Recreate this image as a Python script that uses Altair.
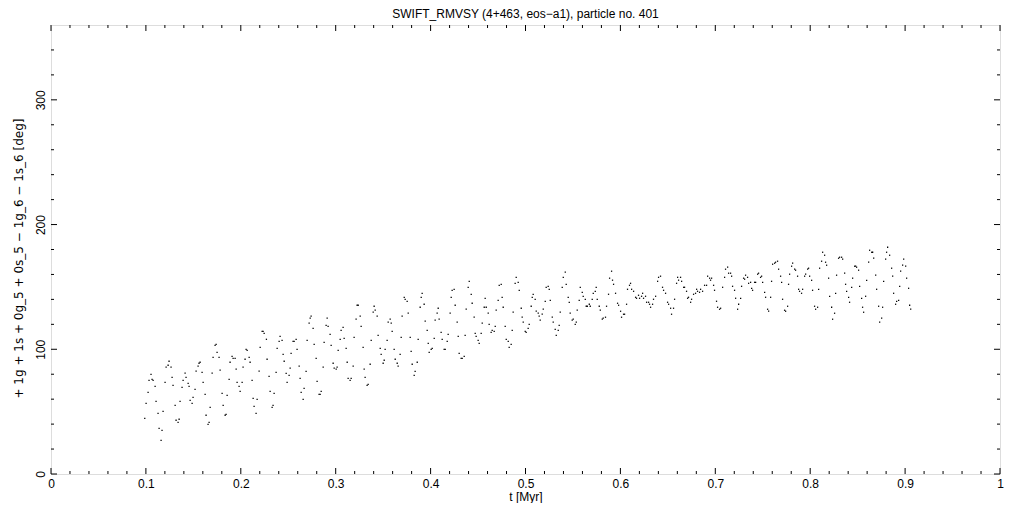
import altair as alt
import pandas as pd

# ---- data (t in Myr, angle in deg) ----
t_seg1 = [0.0988,0.1002,0.1023,0.1033,0.1054,0.1065,0.1076,0.1097,0.1107,0.1128,
          0.1139,0.1160,0.1170,0.1181,0.1202,0.1213,0.1234,0.1244,0.1265,0.1276,
          0.1286,0.1308,0.1318,0.1339,0.1350,0.1360,0.1381,0.1392,0.1413,0.1423,
          0.1445,0.1455,0.1466,0.1487,0.1497,0.1518,0.1529,0.1550,0.1560,0.1571,
          0.1592,0.1603,0.1624,0.1634,0.1655,0.1666,0.1677,0.1698,0.1708,0.1729,
          0.1740,0.1750,0.1771,0.1782,0.1803,0.1814,0.1835,0.1845,0.1856,0.1877,
          0.1887,0.1908,0.1919,0.1940,0.1951,0.1961,0.1982,0.1993,0.2014,0.2024,
          0.2045,0.2056,0.2067,0.2088,0.2098,0.2119,0.2130,0.2140,0.2161,0.2172,
          0.2193,0.2204,0.2225,0.2235,0.2246]
v_seg1 = [44.6,56.7,65.5,75.1,79.9,75.9,75.1,70.3,58.3,48.7,
          36.6,27.0,35.0,50.3,73.5,85.6,87.2,90.4,85.6,77.5,
          71.1,55.1,43.1,41.4,43.9,58.3,69.5,75.1,80.8,77.5,
          72.7,70.3,59.1,56.7,61.5,67.9,82.4,86.4,88.8,89.6,
          81.5,73.5,63.9,47.1,39.8,41.4,53.5,80.8,93.6,103.2,
          104.0,97.6,93.6,83.2,64.7,55.1,47.1,47.9,63.1,75.9,
          89.6,94.4,92.8,92.8,84.0,73.5,70.3,66.3,73.5,85.6,
          92.0,100.0,99.2,93.6,89.6,75.1,60.7,54.3,48.7,59.9,
          82.4,101.6,114.4,114.4,112.8]

t_seg2 = [0.2270,0.2277,0.2298,0.2309,0.2330,0.2340,0.2351,0.2372,0.2383,0.2404,
          0.2414,0.2435,0.2446,0.2457,0.2478,0.2488,0.2509,0.2520,0.2530,0.2551,
          0.2562,0.2583,0.2593,0.2615,0.2625,0.2636,0.2657,0.2667,0.2688,0.2699,
          0.2720,0.2731,0.2741,0.2762,0.2773,0.2794,0.2804,0.2825,0.2836,0.2847,
          0.2868,0.2878,0.2899,0.2910,0.2920,0.2941,0.2952,0.2973,0.2984,0.3005,
          0.3015,0.3026,0.3047,0.3057,0.3078,0.3089,0.3110,0.3121,0.3131,0.3152,
          0.3163,0.3184,0.3194,0.3215,0.3226,0.3237,0.3258,0.3268,0.3289,0.3300,
          0.3310,0.3331,0.3342,0.3363,0.3374,0.3395,0.3405,0.3416,0.3437,0.3447,
          0.3469,0.3479,0.3500,0.3511,0.3521,0.3542,0.3553,0.3574,0.3585,0.3595,
          0.3616,0.3627,0.3648,0.3658,0.3679,0.3690,0.3700,0.3722,0.3732,0.3753,
          0.3764,0.3785,0.3795,0.3806,0.3827,0.3837,0.3859,0.3869,0.3890,0.3901,
          0.3911,0.3932,0.3943,0.3964,0.3975,0.3985,0.4006,0.4017,0.4038]
v_seg2 = [108.0,92.0,78.3,66.3,53.5,55.1,64.7,81.5,100.8,106.4,
          110.4,107.2,96.0,90.4,80.7,73.5,79.1,84.8,96.8,106.4,
          106.4,108.0,100.0,86.4,76.7,65.5,59.9,68.7,82.3,107.2,
          120.9,124.9,126.5,116.8,104.0,92.8,74.3,63.9,63.9,66.3,
          85.6,105.6,119.2,124.9,118.4,112.0,103.2,88.8,84.8,84.0,
          85.6,99.2,108.0,115.2,117.6,108.8,100.8,89.6,76.7,75.1,
          76.7,86.4,109.6,124.1,135.3,135.3,126.5,118.4,101.6,84.0,
          77.5,71.1,71.9,88.0,107.2,129.7,134.5,131.3,126.5,111.2,
          100.8,96.0,88.8,91.2,100.0,107.2,121.7,124.1,120.9,114.4,
          100.0,92.0,88.8,86.4,96.0,109.6,126.5,141.7,140.1,138.5,
          128.9,109.6,98.4,88.0,79.1,82.3,89.6,108.0,133.7,141.7,
          144.9,136.1,122.5,115.2,104.8,97.6,100.0,100.8,108.8]

t_seg3 = [0.4048,0.4069,0.4080,0.4090,0.4111,0.4122,0.4143,0.4154,0.4175,0.4185,
          0.4206,0.4217,0.4227,0.4248,0.4259,0.4280,0.4291,0.4301,0.4322,0.4333,
          0.4354,0.4364,0.4375,0.4396,0.4407,0.4428,0.4438,0.4459,0.4470,0.4480,
          0.4501,0.4512,0.4533,0.4544,0.4565,0.4575,0.4586,0.4607,0.4617,0.4638,
          0.4649,0.4670,0.4681,0.4691,0.4712,0.4723,0.4744,0.4754,0.4765,0.4786,
          0.4797,0.4818,0.4828,0.4849,0.4860,0.4870,0.4891,0.4902,0.4923,0.4934,
          0.4955,0.4965,0.4976,0.4997,0.5007,0.5028,0.5039,0.5060,0.5071,0.5081,
          0.5102,0.5113,0.5134,0.5144,0.5155,0.5176,0.5187,0.5208,0.5218,0.5239,
          0.5250,0.5261,0.5282,0.5292,0.5313,0.5324,0.5345,0.5355,0.5366,0.5387,
          0.5398,0.5419,0.5429,0.5450,0.5461,0.5471,0.5492,0.5503,0.5524,0.5535,
          0.5545,0.5566,0.5577,0.5598,0.5608,0.5630,0.5640,0.5651,0.5672,0.5682,
          0.5703,0.5714,0.5735,0.5745,0.5756,0.5777,0.5788,0.5809,0.5819]
v_seg3 = [123.3,128.9,132.9,124.1,113.6,108.0,100.0,100.0,106.4,112.0,
          128.9,141.7,147.3,148.1,135.3,121.7,110.4,96.8,92.8,92.8,
          94.4,111.2,132.1,149.7,154.5,144.1,136.9,125.7,112.8,110.4,
          107.2,104.8,112.8,120.9,133.7,140.9,133.7,128.9,120.0,113.6,
          115.2,114.4,118.4,131.3,139.3,151.3,152.1,141.7,133.7,118.4,
          108.0,106.4,101.6,104.0,115.2,129.7,152.9,157.7,153.7,147.3,
          132.9,125.7,121.7,114.4,113.6,116.8,120.0,134.5,141.7,144.1,
          140.1,130.5,128.9,126.5,123.3,128.1,132.1,138.5,149.7,150.5,
          148.1,139.3,125.7,121.7,116.0,111.2,115.2,119.2,129.7,149.7,
          157.7,161.8,152.1,141.7,137.7,128.9,123.3,124.1,120.0,121.7,
          131.3,139.3,149.7,145.7,142.5,140.1,134.5,134.5,136.1,134.5,
          140.1,144.9,146.5,149.7,140.1,134.5,131.3,124.1,124.9]

t_seg4 = [0.5843,0.5854,0.5875,0.5886,0.5907,0.5917,0.5928,0.5949,0.5970,0.5981,
          0.6002,0.6012,0.6033,0.6044,0.6065,0.6075,0.6096,0.6107,0.6118,0.6139,
          0.6160,0.6170,0.6191,0.6202,0.6223,0.6234,0.6244,0.6265,0.6276,0.6297,
          0.6307,0.6318,0.6339,0.6349,0.6371,0.6392,0.6402,0.6423,0.6444,0.6455,
          0.6476,0.6497,0.6508,0.6529,0.6539,0.6560,0.6571,0.6592,0.6603,0.6613,
          0.6634,0.6645,0.6666,0.6676,0.6697,0.6708,0.6718,0.6740,0.6750,0.6771,
          0.6792,0.6803,0.6813,0.6834,0.6845,0.6866,0.6887,0.6908,0.6919,0.6940,
          0.6950,0.6961,0.6982,0.6992,0.7013,0.7024,0.7045,0.7056,0.7077,0.7098,
          0.7108,0.7130,0.7140,0.7161,0.7172,0.7182,0.7203,0.7214,0.7235,0.7246,
          0.7267,0.7277,0.7298,0.7309,0.7319,0.7340,0.7351,0.7372,0.7383,0.7393,
          0.7414,0.7425,0.7446,0.7456,0.7477,0.7488,0.7499,0.7520,0.7530,0.7551,
          0.7562,0.7583,0.7593,0.7604,0.7625]
v_seg4 = [125.7,134.5,144.1,157.0,162.6,155.4,152.1,144.9,136.9,135.3,
          130.5,125.7,128.1,128.1,136.1,148.1,151.3,152.9,148.1,146.5,
          141.7,140.9,143.3,140.9,142.5,144.9,140.9,142.5,137.7,137.7,
          136.1,133.7,136.1,140.1,142.5,154.5,157.7,158.6,149.7,147.3,
          144.9,137.7,136.1,132.9,128.1,132.9,140.1,152.9,157.7,155.4,
          157.7,154.5,149.7,149.7,146.5,140.9,141.7,137.7,140.1,144.1,
          144.9,148.1,146.5,145.7,148.1,146.5,151.3,151.3,158.6,157.0,
          155.4,157.0,151.3,147.3,138.5,133.7,132.1,132.9,149.7,157.7,
          164.2,165.8,161.0,161.0,158.6,150.5,147.3,140.9,132.1,136.1,
          140.9,150.5,157.0,156.2,159.4,157.7,152.9,153.7,148.9,147.3,
          153.7,153.7,160.2,161.0,157.7,158.6,153.7,145.7,141.7,132.1,
          130.5,141.7,154.5,168.2,169.0]

t_seg5 = [0.7635,0.7656,0.7667,0.7688,0.7699,0.7709,0.7730,0.7741,0.7762,0.7772,
          0.7783,0.7804,0.7815,0.7836,0.7846,0.7867,0.7878,0.7888,0.7909,0.7920,
          0.7941,0.7952,0.7973,0.7983,0.7994,0.8015,0.8025,0.8046,0.8057,0.8078,
          0.8089,0.8099,0.8120,0.8131,0.8152,0.8162,0.8173,0.8194,0.8205,0.8226,
          0.8236,0.8257,0.8268,0.8278,0.8299,0.8310,0.8331,0.8342,0.8363,0.8373,
          0.8384,0.8405,0.8415,0.8437,0.8447,0.8468,0.8479,0.8489,0.8510,0.8521,
          0.8542,0.8552,0.8563,0.8584,0.8595,0.8616,0.8626,0.8647,0.8658,0.8669,
          0.8690,0.8700,0.8721,0.8732,0.8753,0.8763,0.8774,0.8795,0.8805,0.8816,
          0.8837,0.8858,0.8869,0.8879,0.8900,0.8911,0.8932,0.8943,0.8953,0.8974,
          0.8985,0.9006,0.9016,0.9037,0.9048,0.9059]
v_seg5 = [169.8,170.6,164.2,158.6,153.7,140.1,131.3,130.5,134.5,152.1,
          160.2,166.6,169.0,164.2,163.4,158.6,148.1,146.5,144.9,148.1,
          158.6,160.2,164.2,165.0,158.6,155.3,147.3,134.5,132.1,133.7,
          148.1,165.0,170.6,177.8,175.4,169.8,167.4,157.0,142.5,133.7,
          124.1,128.9,144.9,159.4,173.0,173.8,173.8,172.2,161.0,152.1,
          146.5,141.7,137.7,149.7,157.0,166.6,166.6,165.8,163.4,150.5,
          140.9,133.7,129.7,142.5,155.3,169.8,179.4,177.8,177.8,173.0,
          159.4,148.1,134.5,121.7,124.9,133.7,154.5,172.2,177.8,181.8,
          175.4,165.0,158.6,144.9,136.1,138.5,139.3,150.5,162.6,167.4,
          172.2,166.6,157.0,148.9,135.3,132.1]

# axis ticks
x_major = [0, 0.1, 0.2, 0.3, 0.4, 0.5, 0.6, 0.7, 0.8, 0.9, 1]
x_minor = [0.02, 0.04, 0.06, 0.08, 0.12, 0.14, 0.16, 0.18, 0.22, 0.24, 0.26, 0.28,
           0.32, 0.34, 0.36, 0.38, 0.42, 0.44, 0.46, 0.48, 0.52, 0.54, 0.56, 0.58,
           0.62, 0.64, 0.66, 0.68, 0.72, 0.74, 0.76, 0.78, 0.82, 0.84, 0.86, 0.88,
           0.92, 0.94, 0.96, 0.98]
y_major = [0, 100, 200, 300]
y_minor = [20, 40, 60, 80, 120, 140, 160, 180, 220, 240, 260, 280, 320, 340]

title_text = "SWIFT_RMVSY (4+463, eos\u2212a1), particle no. 401"
y_title = "+ 1g + 1s + 0g_5 + 0s_5 \u2212 1g_6 \u2212 1s_6 [deg]"
x_title = "t [Myr]"

# ---- build ----
ts, vs = [], []
for a, b in [(t_seg1, v_seg1), (t_seg2, v_seg2), (t_seg3, v_seg3),
             (t_seg4, v_seg4), (t_seg5, v_seg5)]:
    for p, q in zip(a, b):
        ts.append(p)
        vs.append(q)
df = pd.DataFrame({"t": ts, "v": vs})

W, H = 949, 449
FONT = "Liberation Sans"
MAJ, MIN = 6, 3

xs = alt.Scale(domain=[0, 1], nice=False, zero=False)
ys = alt.Scale(domain=[0, 360], nice=False, zero=False)

ax_x = alt.Axis(
    values=x_major, format="~g", title=x_title, labelFont=FONT, labelFontSize=12,
    labelColor="black", labelPadding=4, labelBaseline="top", labelFlush=False,
    titleFont=FONT, titleFontSize=12, titleFontWeight="normal", titleColor="black",
    titleBaseline="bottom", titleY=29, ticks=False, domain=False, grid=False)
ax_y = alt.Axis(
    values=y_major, format="d", title=y_title, labelFont=FONT, labelFontSize=12,
    labelColor="black", labelAngle=270, labelAlign="center", labelBaseline="bottom",
    labelPadding=4, labelFlush=False,
    titleFont="DejaVu Sans", titleFontSize=12, titleFontWeight="normal", titleColor="black",
    titleAngle=270, titleAlign="center", titleBaseline="middle", titleX=-33, titleY=233,
    ticks=False, domain=False, grid=False)

points = alt.Chart(df).mark_square(size=1.6, color="black", opacity=1, strokeWidth=0).encode(
    x=alt.X("t:Q", scale=xs, axis=ax_x, title=x_title),
    y=alt.Y("v:Q", scale=ys, axis=ax_y, title=y_title),
)


def xticks(vals, length, top):
    d = pd.DataFrame({"tv": vals})
    if top:
        yy, yy2 = alt.value(0), alt.value(length)
    else:
        yy, yy2 = alt.value(H), alt.value(H - length)
    return alt.Chart(d).mark_rule(color="black", strokeWidth=1).encode(
        x=alt.X("tv:Q", scale=xs, axis=ax_x, title=x_title), y=yy, y2=yy2)


def yticks(vals, length, right):
    d = pd.DataFrame({"tv": vals})
    if right:
        xx, xx2 = alt.value(W), alt.value(W - length)
    else:
        xx, xx2 = alt.value(0), alt.value(length)
    return alt.Chart(d).mark_rule(color="black", strokeWidth=1).encode(
        y=alt.Y("tv:Q", scale=ys, axis=ax_y, title=y_title), x=xx, x2=xx2)


layers = [points,
          xticks(x_major, MAJ, False), xticks(x_major, MAJ, True),
          xticks(x_minor, MIN, False), xticks(x_minor, MIN, True),
          yticks(y_major, MAJ, False), yticks(y_major, MAJ, True),
          yticks(y_minor, MIN, False), yticks(y_minor, MIN, True)]

chart = alt.layer(*layers).properties(
    width=W, height=H,
    title=alt.TitleParams(title_text, font=FONT, fontSize=12, fontWeight="normal",
                          color="black", anchor="middle", offset=4),
    autosize=alt.AutoSizeParams(type="none"),
    padding={"left": 43, "top": 17, "right": 13, "bottom": 29},
).configure_view(stroke="black", strokeWidth=1).configure(background="white")

chart.save("out.html", embed_options={"renderer": "svg", "actions": False})
